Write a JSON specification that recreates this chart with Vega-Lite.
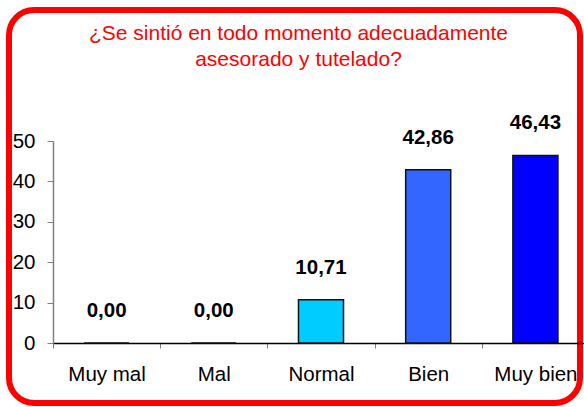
{
  "$schema": "https://vega.github.io/schema/vega-lite/v6.json",
  "width": 571,
  "height": 393,
  "autosize": {"type": "none"},
  "padding": {"left": 9, "top": 10, "right": 4, "bottom": 4},
  "background": "white",
  "config": {
    "view": {"stroke": "#FF0000", "strokeWidth": 6, "cornerRadius": 25, "fill": "white"},
    "font": "Liberation Sans",
    "locale": {"number": {"decimal": ",", "thousands": ".", "grouping": [3], "currency": ["", " €"]}}
  },
  "title": {
    "text": ["¿Se sintió en todo momento adecuadamente", "asesorado y tutelado?"],
    "color": "#FF0000",
    "fontSize": 21,
    "fontWeight": "normal",
    "font": "Liberation Sans",
    "anchor": "middle",
    "frame": "group",
    "offset": -60,
    "lineHeight": 26,
    "dx": 4
  },
  "data": {
    "values": [
      {"cat": "Muy mal", "v": 0},
      {"cat": "Mal", "v": 0},
      {"cat": "Normal", "v": 10.71},
      {"cat": "Bien", "v": 42.86},
      {"cat": "Muy bien", "v": 46.43}
    ]
  },
  "encoding": {
    "x": {
      "field": "cat",
      "type": "nominal",
      "sort": null,
      "scale": {"range": [44, 580], "paddingInner": 0, "paddingOuter": 0},
      "axis": {
        "orient": "bottom",
        "offset": -60,
        "title": null,
        "labelAngle": 0,
        "labelFontSize": 20.5,
        "labelColor": "#000000",
        "labelPadding": 16,
        "domainColor": "#000000",
        "domainWidth": 1.5,
        "tickColor": "#808080",
        "tickSize": 5,
        "tickBand": "extent",
        "grid": false
      }
    },
    "y": {
      "field": "v",
      "type": "quantitative",
      "scale": {"domain": [0, 50], "range": [333, 131], "nice": false, "zero": false},
      "axis": {
        "orient": "left",
        "offset": -44,
        "title": null,
        "values": [0, 10, 20, 30, 40, 50],
        "labelFontSize": 20.5,
        "labelColor": "#000000",
        "labelPadding": 12,
        "domainColor": "#808080",
        "domainWidth": 1.5,
        "tickColor": "#808080",
        "tickSize": 6,
        "grid": false
      }
    }
  },
  "layer": [
    {
      "mark": {"type": "bar", "width": {"band": 0.42}, "stroke": "#111111", "strokeWidth": 1.5},
      "encoding": {
        "color": {
          "field": "cat",
          "type": "nominal",
          "scale": {
            "domain": ["Muy mal", "Mal", "Normal", "Bien", "Muy bien"],
            "range": ["#00CCFF", "#00CCFF", "#00CCFF", "#3366FF", "#0000FF"]
          },
          "legend": null
        }
      }
    },
    {
      "mark": {"type": "text", "fontWeight": "bold", "fontSize": 20.5, "color": "#000000", "baseline": "alphabetic", "dy": -26},
      "encoding": {
        "text": {"field": "v", "type": "quantitative", "format": ".2f"}
      }
    }
  ]
}
